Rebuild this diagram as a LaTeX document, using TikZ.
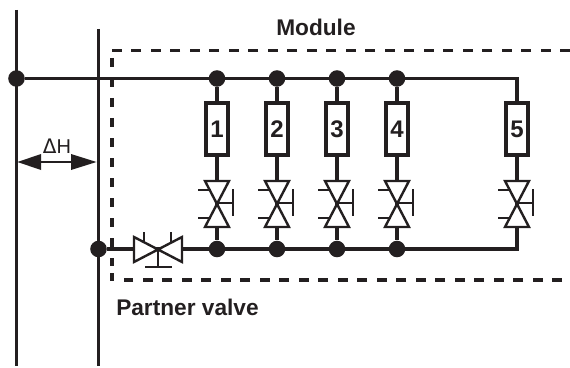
\documentclass[tikz,border=0pt]{standalone}
\usepackage{fontspec}
\setmainfont{Liberation Sans}
\begin{document}
\begin{tikzpicture}[x=0.75pt,y=-0.75pt,
  line join=miter,
  wire/.style={line width=2.4pt,draw=ink},
  thinl/.style={line width=1.8pt,draw=ink},
  dot/.style={circle,fill=ink,inner sep=0pt,minimum size=12.4pt},
  modbox/.style={draw=ink,line width=3pt,fill=white,minimum width=15.8pt,minimum height=39.6pt,inner sep=0pt,font=\bfseries\fontsize{18}{20}\selectfont,text=ink},
  title/.style={font=\bfseries\fontsize{17}{19}\selectfont,text=ink,inner sep=0pt},
  frame/.style={line width=2.3pt,draw=ink,dash pattern=on 7.5pt off 7.12pt},
  framev/.style={line width=2.3pt,draw=ink,dash pattern=on 6.75pt off 8.25pt},
  vvalve/.pic={
    \draw[thinl,fill=white] (-12,-22) -- (12,-22) -- (-12,24) -- (12,24) -- cycle;
    \draw[thinl] (0,0) -- (16,0) (16,-14) -- (16,13);
    \draw[thinl] (-19,-13) -- (-6,-13) (-19,15) -- (-6,15);
  },
  hvalve/.pic={
    \draw[thinl,fill=white] (-24,-12) -- (-24,13) -- (24,-12) -- (24,13) -- cycle;
    \draw[thinl] (0,0) -- (0,18) (-13,18) -- (14,18);
    \draw[thinl] (-14,-17) -- (-14,-6) (13,-17) -- (13,-6);
  }]
\definecolor{ink}{HTML}{231F20}
\useasboundingbox (0,0) rectangle (570,367);
% frame
\draw[frame] (570,50.5) -- (112,50.5);
\draw[framev] (112,58) -- (112,266);
\draw[line width=2.3pt,draw=ink] (112,273) -- (112,281);
\draw[frame] (562,280) -- (124,280);
% rails
\coordinate (L1) at (16.5,10); \coordinate (L2) at (16.5,366);
\coordinate (R1) at (98.5,29); \coordinate (R2) at (98.5,366);
\draw[wire] (L1) -- (L2);
\draw[wire] (R1) -- (R2);
% bus dots
\node[dot] (topL) at (16.5,78.5) {};
\node[dot] (botR) at (98.5,249) {};
\coordinate (topE) at (517,78.5);
\coordinate (botE) at (517,249);
\draw[wire] (topL) -- (topE) -- (botE) -- (botR);
% branches
\foreach \n/\x in {1/217,2/277,3/337,4/397}{
  \node[dot] (t\n) at (\x,78.5) {};
  \node[dot] (b\n) at (\x,249) {};
  \draw[wire] (t\n) -- (b\n);
  \node[modbox] (m\n) at (\x,129) {\n};
  \pic at (\x,203) {vvalve};
}
\node[modbox] (m5) at (517,129) {5};
\pic at (517,203) {vvalve};
% partner valve
\pic at (158,249) {hvalve};
% delta H
\coordinate (aL) at (17.5,162); \coordinate (aR) at (96.5,162);
\fill[ink] (aL) -- (41,154) -- (41,170) -- cycle;
\fill[ink] (aR) -- (71,154) -- (71,170) -- cycle;
\draw[ink,line width=1.1pt] (41,162) -- (71,162);
\node[inner sep=0pt,text=ink,font=\fontsize{15}{16}\selectfont] (dh) at (57,146) {\fontspec{DejaVu Sans}Δ\fontspec{Liberation Sans}H};
% labels
\node[title,anchor=west] (mod) at (276,27) {Module};
\node[title,anchor=west] (par) at (116,307) {Partner valve};
\end{tikzpicture}
\end{document}
